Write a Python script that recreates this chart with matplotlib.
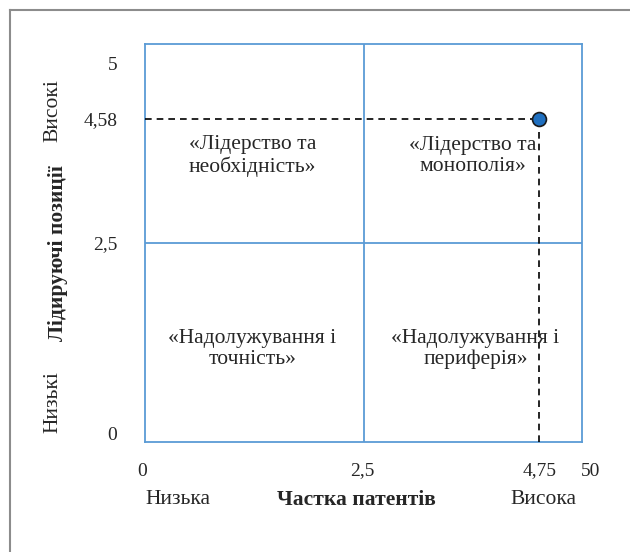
import matplotlib
matplotlib.use("Agg")
import matplotlib.pyplot as plt
from matplotlib.lines import Line2D

# quadrant grid (axis scale 0..5, split at 2.5)
x_bounds = [0, 2.5, 5]
y_bounds = [0, 2.5, 5]

# observed position (as drawn) and its printed labels
point_x = 4.51
point_y = 4.06

x_ticks = [-0.03, 2.49, 4.51, 5.1]
x_tick_labels = ["0", "2,5", "4,75", "50"]
y_ticks = [0.11, 2.51, 4.06, 4.76]
y_tick_labels = ["0", "2,5", "4,58", "5"]

quadrant_labels = [
    "«Лідерство та\nнеобхідність»",
    "«Лідерство та\nмонополія»",
    "«Надолужування і\nточність»",
    "«Надолужування і\nпериферія»",
]
quadrant_x = [1.23, 3.75, 1.23, 3.78]
quadrant_y = [3.59, 3.59, 1.17, 1.17]

plt.rcParams["font.family"] = ["Liberation Serif", "DejaVu Serif"]

W, H = 630, 552
fig = plt.figure(figsize=(W / 100, H / 100), dpi=100)
ax = fig.add_axes([145 / W, 1 - 442 / H, 437 / W, 398 / H])

blue = "#5b9bd5"
txt = "#262626"
for s in ax.spines.values():
    s.set_color(blue)
    s.set_linewidth(1.3)
ax.axvline(x_bounds[1], color=blue, lw=1.3)
ax.axhline(y_bounds[1], color=blue, lw=1.3)

# dashed guide lines to the point
ax.plot([0, point_x], [point_y, point_y], color="black", lw=1.2, ls=(0, (4, 3)), zorder=3)
ax.plot([point_x, point_x], [0, point_y], color="black", lw=1.2, ls=(0, (4, 3)), zorder=3)
ax.plot(point_x, point_y, "o", ms=10, mfc="#1f6fbf", mec="#1a1a1a", mew=1.2, zorder=4)

for lbl, qx, qy in zip(quadrant_labels, quadrant_x, quadrant_y):
    ax.text(qx, qy, lbl, ha="center", va="center", fontsize=15.5,
            color=txt, linespacing=1.15)

ax.set_xlim(x_bounds[0], x_bounds[-1])
ax.set_ylim(y_bounds[0], y_bounds[-1])
ax.set_xticks([])
ax.set_yticks(y_ticks)
ax.set_yticklabels(y_tick_labels)
ax.set_ylim(y_bounds[0], y_bounds[-1])
ax.tick_params(length=0, labelsize=14, labelcolor=txt)
ax.tick_params(axis="y", pad=20)

# x labels drawn as text so the one past the frame ("50") is kept
for xv, lbl in zip(x_ticks, x_tick_labels):
    ax.text(xv, -0.073, lbl, transform=ax.get_xaxis_transform(), ha="center",
            va="center", fontsize=14, color=txt, clip_on=False)

# axis captions
fig.text(178 / W, 1 - 500 / H, "Низька", ha="center", va="center", fontsize=15.5, color=txt)
fig.text(356 / W, 1 - 500 / H, "Частка патентів", ha="center", va="center",
         fontsize=15.5, fontweight="bold", color=txt)
fig.text(543 / W, 1 - 500 / H, "Висока", ha="center", va="center", fontsize=15.5, color=txt)

fig.text(53 / W, 1 - 111 / H, "Високі", ha="center", va="center", rotation=90,
         fontsize=15.5, color=txt)
fig.text(58 / W, 1 - 253 / H, "Лідируючі позиції", ha="center", va="center", rotation=90,
         fontsize=15.5, fontweight="bold", color=txt)
fig.text(53 / W, 1 - 402 / H, "Низькі", ha="center", va="center", rotation=90,
         fontsize=15.5, color=txt)

# outer frame (top and left edges only are visible)
fig.add_artist(Line2D([10 / W, 1], [1 - 10 / H, 1 - 10 / H], color="#8c8c8c", lw=1.5))
fig.add_artist(Line2D([10 / W, 10 / W], [0, 1 - 10 / H], color="#8c8c8c", lw=1.5))

fig.savefig("out.png", dpi=100)
